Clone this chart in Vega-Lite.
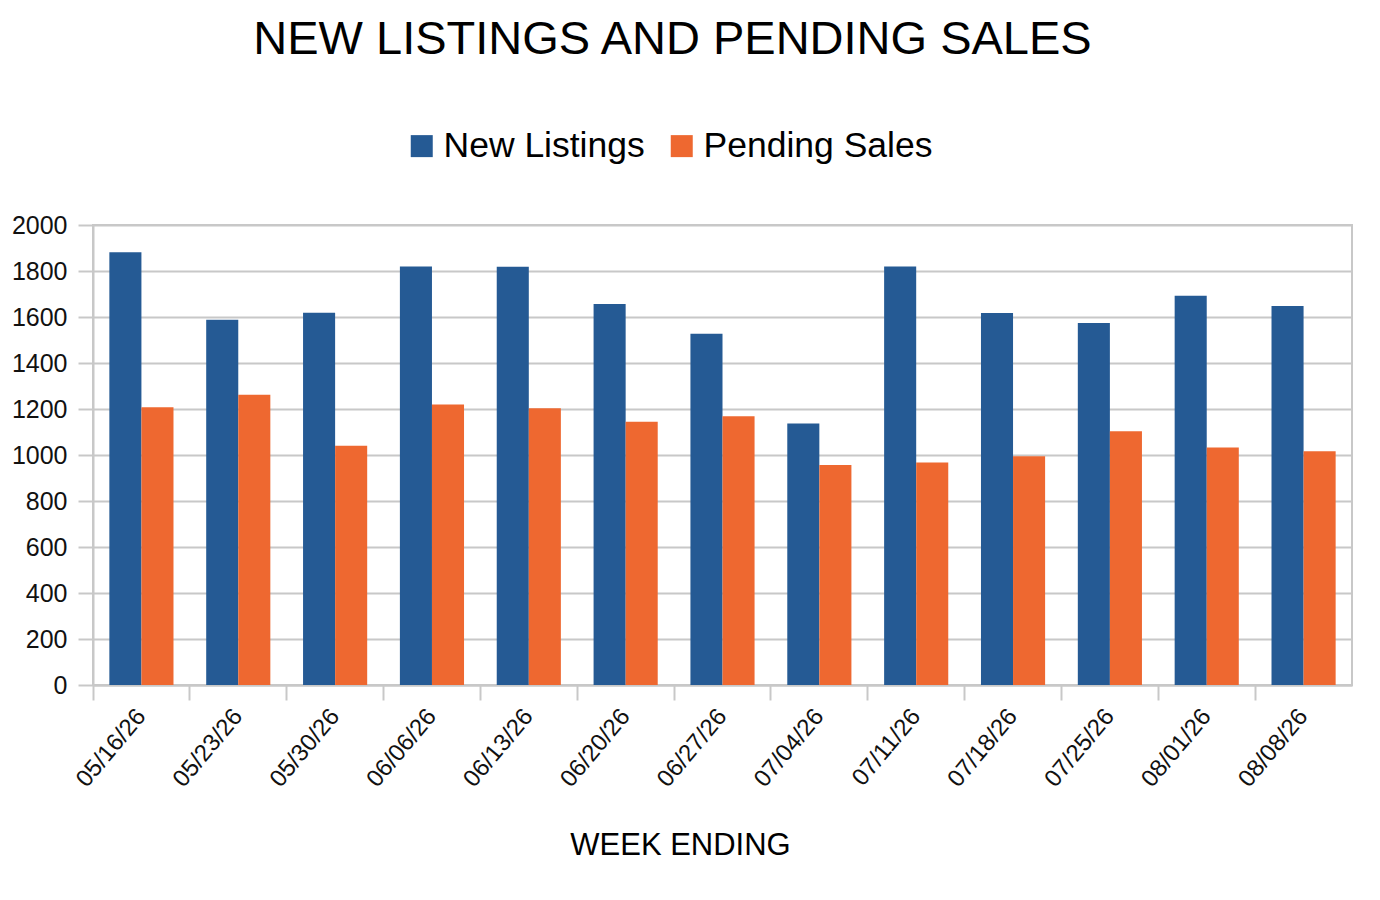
{
  "$schema": "https://vega.github.io/schema/vega-lite/v6.json",
  "width": 1259,
  "height": 460,
  "autosize": {"type": "none"},
  "padding": {"left": 93, "top": 225, "right": 28, "bottom": 215},
  "background": "white",
  "title": {
    "text": "NEW LISTINGS AND PENDING SALES",
    "font": "Liberation Sans",
    "fontSize": 47,
    "fontWeight": "normal",
    "color": "#000000",
    "anchor": "middle",
    "frame": "group",
    "dx": -50,
    "offset": 64
  },
  "data": {
    "values": [
      {"week": "05/16/26", "series": "New Listings", "value": 1882},
      {"week": "05/16/26", "series": "Pending Sales", "value": 1208},
      {"week": "05/23/26", "series": "New Listings", "value": 1588},
      {"week": "05/23/26", "series": "Pending Sales", "value": 1262},
      {"week": "05/30/26", "series": "New Listings", "value": 1618},
      {"week": "05/30/26", "series": "Pending Sales", "value": 1040},
      {"week": "06/06/26", "series": "New Listings", "value": 1820},
      {"week": "06/06/26", "series": "Pending Sales", "value": 1220},
      {"week": "06/13/26", "series": "New Listings", "value": 1819},
      {"week": "06/13/26", "series": "Pending Sales", "value": 1203},
      {"week": "06/20/26", "series": "New Listings", "value": 1656},
      {"week": "06/20/26", "series": "Pending Sales", "value": 1145},
      {"week": "06/27/26", "series": "New Listings", "value": 1527},
      {"week": "06/27/26", "series": "Pending Sales", "value": 1169},
      {"week": "07/04/26", "series": "New Listings", "value": 1137},
      {"week": "07/04/26", "series": "Pending Sales", "value": 957},
      {"week": "07/11/26", "series": "New Listings", "value": 1820},
      {"week": "07/11/26", "series": "Pending Sales", "value": 967},
      {"week": "07/18/26", "series": "New Listings", "value": 1617},
      {"week": "07/18/26", "series": "Pending Sales", "value": 995},
      {"week": "07/25/26", "series": "New Listings", "value": 1574},
      {"week": "07/25/26", "series": "Pending Sales", "value": 1103},
      {"week": "08/01/26", "series": "New Listings", "value": 1692},
      {"week": "08/01/26", "series": "Pending Sales", "value": 1033},
      {"week": "08/08/26", "series": "New Listings", "value": 1648},
      {"week": "08/08/26", "series": "Pending Sales", "value": 1016}
    ]
  },
  "mark": {"type": "bar", "stroke": null},
  "encoding": {
    "x": {
      "field": "week",
      "type": "nominal",
      "sort": null,
      "scale": {"paddingInner": 0, "paddingOuter": 0},
      "axis": {
        "title": "WEEK ENDING",
        "titleFont": "Liberation Sans",
        "titleFontSize": 31,
        "titleFontWeight": "normal",
        "titleColor": "#000000",
        "titleX": 587,
        "titleY": 160,
        "titleBaseline": "middle",
        "titleAlign": "center",
        "labelAngle": -50,
        "labelAlign": "right",
        "labelBaseline": "middle",
        "labelFont": "Liberation Sans",
        "labelFontSize": 24,
        "labelColor": "#111111",
        "labelPadding": 12,
        "bandPosition": 0,
        "tickSize": 15,
        "tickColor": "#c8c8c8",
        "tickWidth": 2,
        "domainColor": "#c8c8c8",
        "domainWidth": 2
      }
    },
    "xOffset": {
      "field": "series",
      "type": "nominal",
      "scale": {"paddingInner": 0, "paddingOuter": 0.51}
    },
    "y": {
      "field": "value",
      "type": "quantitative",
      "scale": {"domain": [0, 2000]},
      "axis": {
        "title": null,
        "format": "d",
        "values": [0, 200, 400, 600, 800, 1000, 1200, 1400, 1600, 1800, 2000],
        "labelFont": "Liberation Sans",
        "labelFontSize": 25,
        "labelColor": "#111111",
        "labelPadding": 11,
        "tickSize": 15,
        "tickColor": "#c8c8c8",
        "tickWidth": 2,
        "grid": true,
        "gridColor": "#c8c8c8",
        "gridWidth": 2,
        "domainColor": "#c8c8c8",
        "domainWidth": 2
      }
    },
    "color": {
      "field": "series",
      "type": "nominal",
      "scale": {"domain": ["New Listings", "Pending Sales"], "range": ["#255a94", "#ee6830"]},
      "legend": {
        "title": null,
        "orient": "none",
        "direction": "horizontal",
        "legendX": 311,
        "legendY": -97,
        "symbolType": "square",
        "symbolSize": 484,
        "symbolStrokeWidth": 0,
        "labelFont": "Liberation Sans",
        "labelFontSize": 35.5,
        "labelColor": "#000000",
        "labelOffset": 4,
        "columnPadding": 19,
        "labelLimit": 400
      }
    }
  },
  "config": {
    "view": {"stroke": "#c8c8c8", "strokeWidth": 2}
  }
}
